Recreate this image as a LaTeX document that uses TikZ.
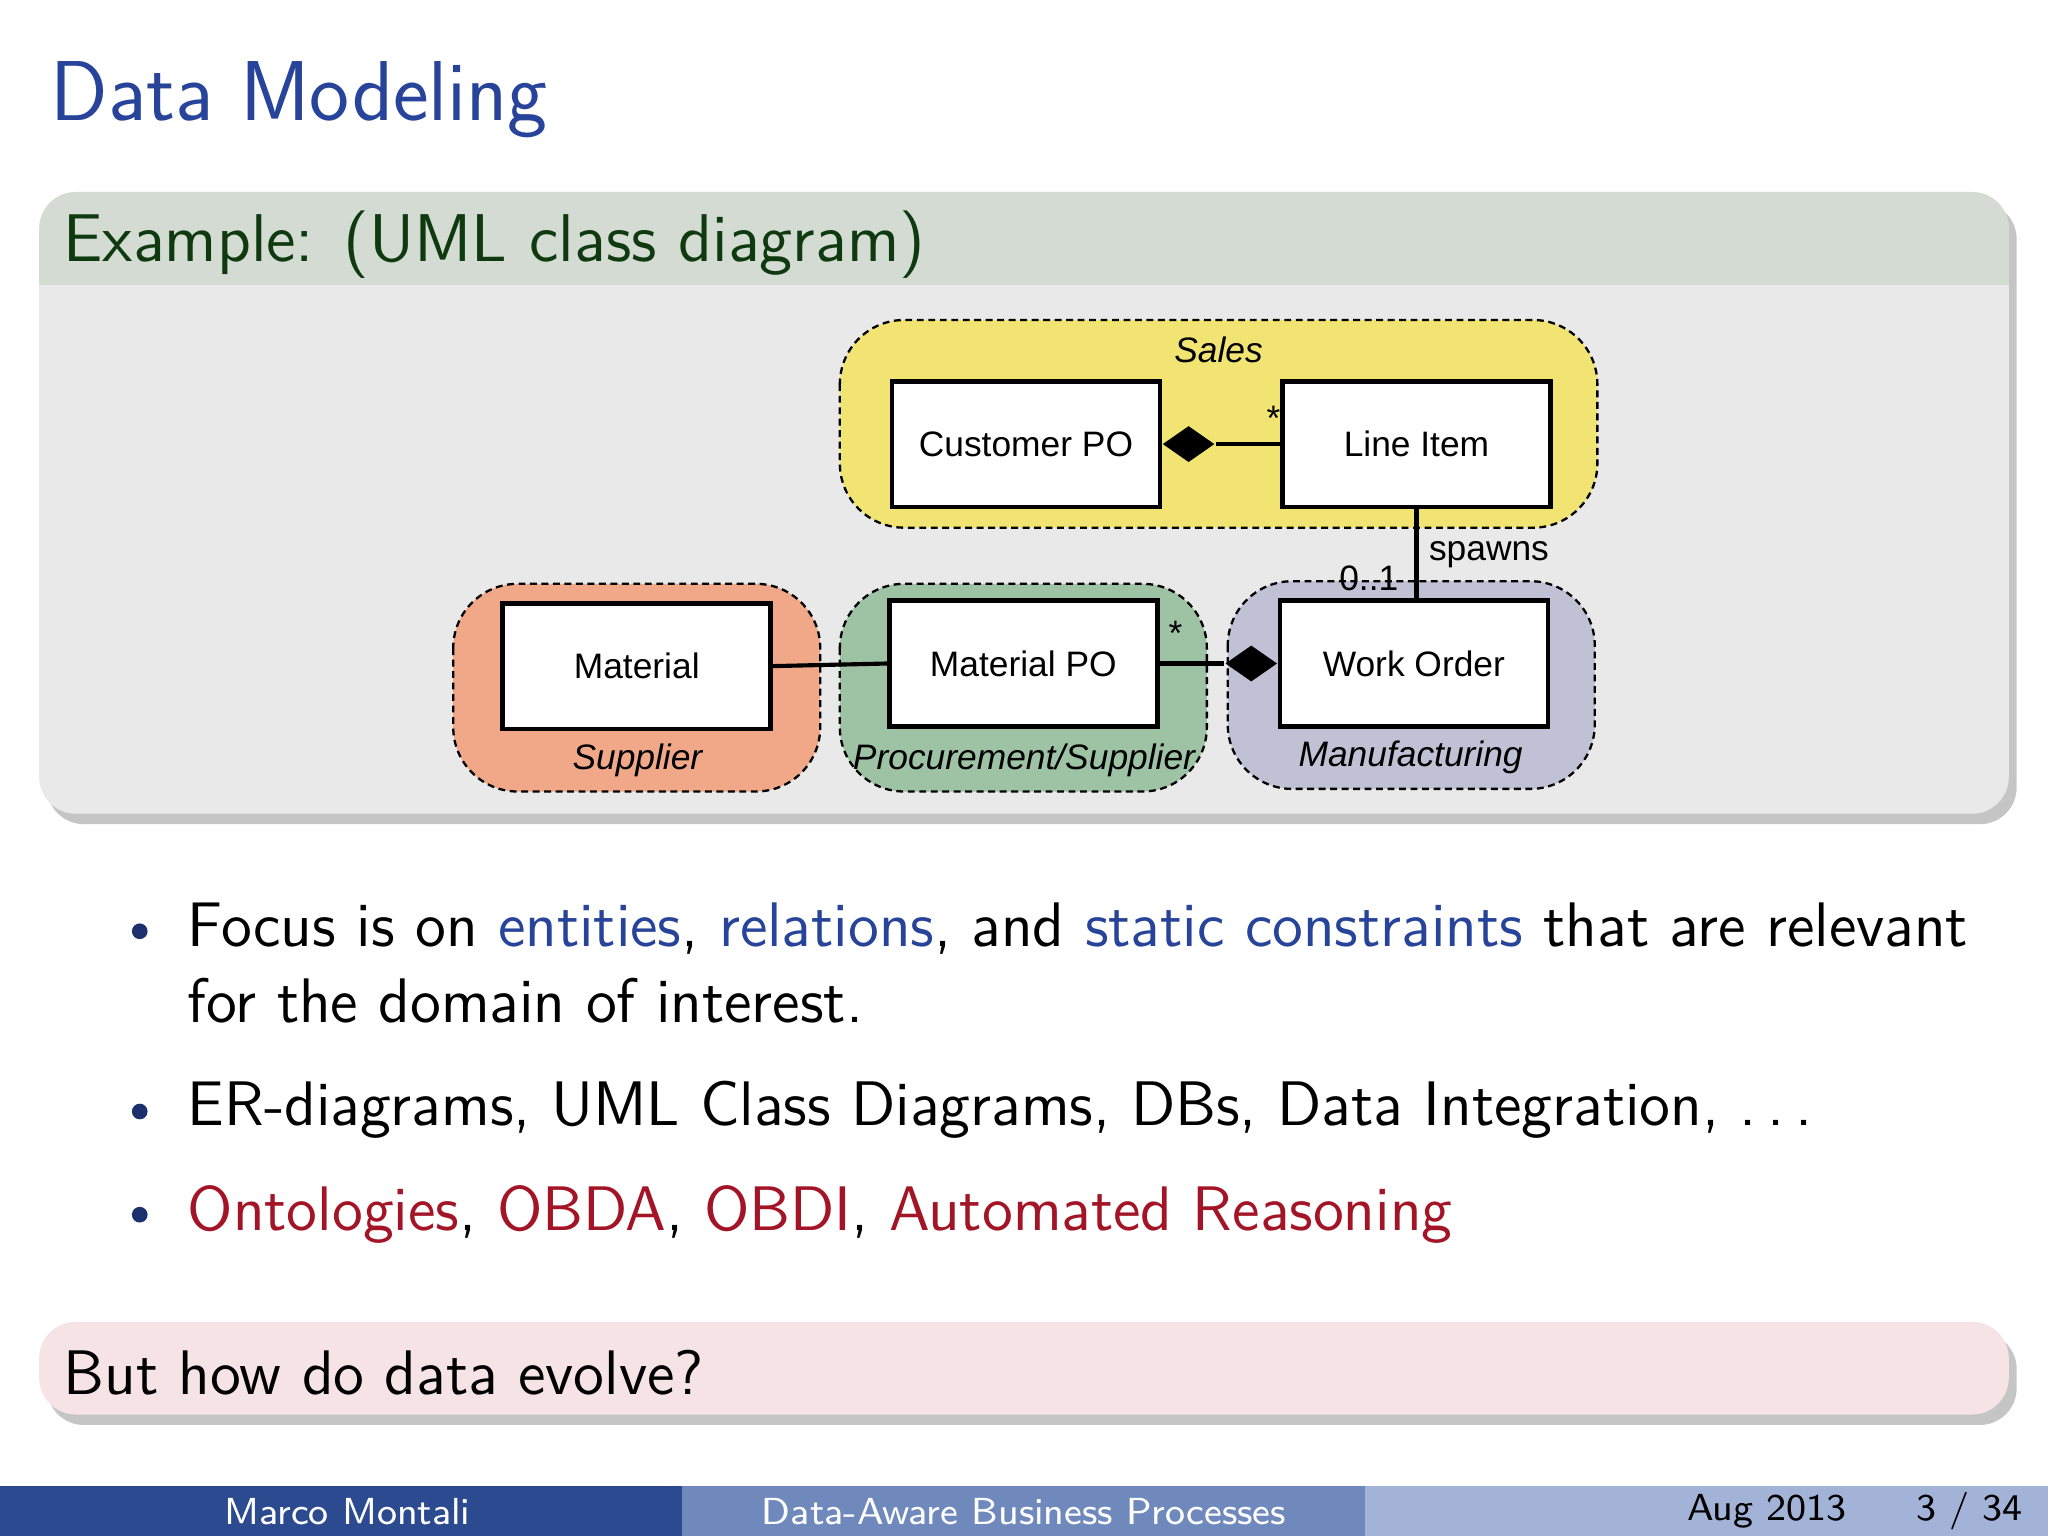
\documentclass[tikz,border=0pt]{standalone}
\usepackage{fontspec}
\newfontfamily\hv{Liberation Sans}
\usetikzlibrary{shapes.geometric,shadows}
\definecolor{ttl}{HTML}{27449A}
\definecolor{hdr}{HTML}{D3DBD3}
\definecolor{bdy}{HTML}{E9E9E9}
\definecolor{grntxt}{HTML}{0F3A10}
\definecolor{ylw}{HTML}{F2E472}
\definecolor{sal}{HTML}{F0A889}
\definecolor{grn}{HTML}{9DC2A4}
\definecolor{prp}{HTML}{C0C1D4}
\definecolor{bl}{HTML}{27449A}
\definecolor{rd}{HTML}{A31526}
\definecolor{pnk}{HTML}{F5E3E6}
\definecolor{f1}{HTML}{2C4A8F}
\definecolor{f2}{HTML}{7089BC}
\definecolor{f3}{HTML}{A3B3D8}
\tikzset{
 grp/.style={draw,dash pattern=on 1.5pt off 1pt,rounded corners=14,line width=0.5pt},
 cls/.style={draw,line width=1pt,fill=white,minimum width=2.05cm,minimum height=0.96cm,font=\hv\fontsize{7.7}{9}\selectfont},
 glbl/.style={font=\hv\itshape\fontsize{7.7}{9}\selectfont},
 sml/.style={font=\hv\fontsize{7.7}{9}\selectfont},
 dia/.style={diamond,fill=black,minimum width=0.4cm,minimum height=0.28cm,inner sep=0},
 body/.style={anchor=base west,font=\sffamily\fontsize{13.7}{16}\selectfont},
 conn/.style={line width=0.9pt},
 foot/.style={font=\sffamily\fontsize{8.2}{10}\selectfont}
}
\begin{document}
\begin{tikzpicture}[x=0.01cm,y=-0.01cm]
\useasboundingbox (0,0) rectangle (1568,1176);
\fill[white] (0,0) rectangle (1568,1176);
\node[anchor=base west,text=ttl,font=\sffamily\fontsize{18.5}{22}\selectfont,inner sep=0] (title) at (38,92) {Data Modeling};
% example block
\fill[black!45,opacity=0.5,rounded corners=8] (36,155) rectangle (1544,631);
\fill[bdy,rounded corners=8] (30,147) rectangle (1538,623);
\fill[hdr,rounded corners=8] (30,147) rectangle (1538,218);
\fill[hdr] (30,190) rectangle (1538,218);
\node[anchor=base west,text=grntxt,font=\sffamily\fontsize{14.7}{18}\selectfont,inner sep=0] (ex) at (48,200) {Example: (UML class diagram)};
% groups
\draw[grp,fill=ylw] (643,245) rectangle (1223,404);
\draw[grp,fill=sal] (347,447) rectangle (628,606);
\draw[grp,fill=grn] (643,447) rectangle (924,606);
\draw[grp,fill=prp] (940,445) rectangle (1221,604);
\node[glbl] (gs) at (933,268) {Sales};
\node[glbl] (gsu) at (488,582) {Supplier};
\node[glbl] (gp) at (784,582) {Procurement/Supplier};
\node[glbl] (gm) at (1080,580) {Manufacturing};
% classes
\node[cls] (cpo) at (785.5,340) {Customer PO};
\node[cls] (li) at (1084.5,340) {Line Item};
\node[cls] (mat) at (487.5,510) {Material};
\node[cls] (mpo) at (783.5,508) {Material PO};
\node[cls] (wo) at (1082.5,508) {Work Order};
\node[dia] (d1) at (910,340) {};
\node[dia] (d2) at (958,508) {};
\draw[conn] (d1.east) -- (li.west);
\draw[conn] (mpo.east) -- (d2.west);
\draw[conn] (mat.east) -- (mpo.west);
\draw[conn] (li.south) -- (wo.north -| li.south);
\node[sml] (s1) at (975,320) {*};
\node[sml] (s2) at (900,485) {*};
\node[sml] (sp) at (1140,425) {spawns};
\node[sml] (z1) at (1048,443) {0..1};
% bullets
\foreach \y in {713,851,930} \fill[bl!70!black] (107,\y) circle (6);
\node[body,inner sep=0] (b1) at (143,725) {Focus is on \textcolor{bl}{entities}, \textcolor{bl}{relations}, and \textcolor{bl}{static constraints} that are relevant};
\node[body,inner sep=0] (b1b) at (143,783) {for the domain of interest.};
\node[body,inner sep=0] (b2) at (143,862) {ER-diagrams, UML Class Diagrams, DBs, Data Integration, .\,.\,.};
\node[body,inner sep=0] (b3) at (143,942) {\textcolor{rd}{Ontologies}, \textcolor{rd}{OBDA}, \textcolor{rd}{OBDI}, \textcolor{rd}{Automated Reasoning}};
% bottom block
\fill[black!45,opacity=0.5,rounded corners=8] (36,1020) rectangle (1544,1091);
\fill[pnk,rounded corners=8] (30,1012) rectangle (1538,1083);
\node[body,inner sep=0] (q) at (48,1068) {But how do data evolve?};
% footer
\fill[f1] (0,1138) rectangle (522,1176);
\fill[f2] (522,1138) rectangle (1045,1176);
\fill[f3] (1045,1138) rectangle (1568,1176);
\node[foot,text=white] (fa) at (266,1157) {Marco Montali};
\node[foot,text=white] (fb) at (784,1157) {Data-Aware Business Processes};
\node[foot] (fc) at (1353,1157) {Aug 2013};
\node[foot] (fd) at (1508,1157) {3 / 34};
\end{tikzpicture}
\end{document}
